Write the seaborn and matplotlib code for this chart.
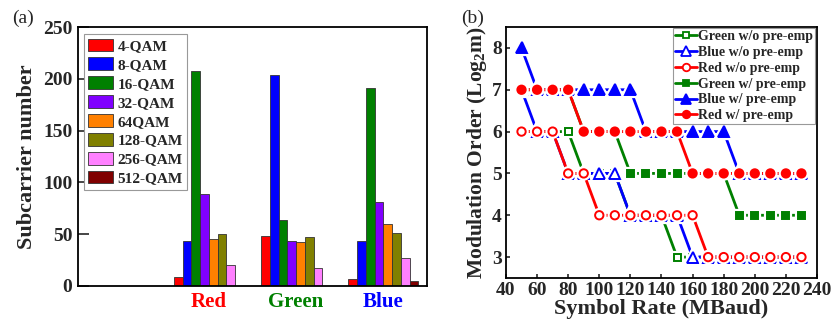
import numpy as np
import pandas as pd
import matplotlib
matplotlib.use('Agg')
import matplotlib.pyplot as plt
import matplotlib.patheffects as pe
from matplotlib.lines import Line2D
import seaborn as sns

# ---- panel (a): subcarrier allocation
channels = ['Red', 'Green', 'Blue']
formats = ['4-QAM', '8-QAM', '16-QAM', '32-QAM', '64QAM', '128-QAM', '256-QAM', '512-QAM']
red_counts = [9, 43, 208, 89, 45, 50, 20, 0]
green_counts = [48, 204, 64, 43, 42, 47, 17, 0]
blue_counts = [7, 43, 191, 81, 60, 51, 27, 5]
bar_colors = ['#ff0000', '#0000ff', '#008000', '#8000ff', '#ff8000', '#808000', '#ff80ff', '#800000']
label_colors = ['#ff0000', '#008000', '#0000ff']

# ---- panel (b): modulation order vs symbol rate
rates = [50, 60, 70, 80, 90, 100, 110, 120, 130, 140, 150, 160, 170, 180, 190, 200, 210, 220, 230]
green_wo = [6, 6, 6, 6, 5, 5, 5, 4, 4, 4, 3, 3, 3, 3, 3, 3, 3, 3, 3]
blue_wo = [7, 6, 6, 5, 5, 5, 5, 4, 4, 4, 4, 3, 3, 3, 3, 3, 3, 3, 3]
red_wo = [6, 6, 6, 5, 5, 4, 4, 4, 4, 4, 4, 4, 3, 3, 3, 3, 3, 3, 3]
green_w = [7, 7, 7, 7, 6, 6, 6, 5, 5, 5, 5, 5, 5, 5, 4, 4, 4, 4, 4]
blue_w = [8, 7, 7, 7, 7, 7, 7, 7, 6, 6, 6, 6, 6, 6, 5, 5, 5, 5, 5]
red_w = [7, 7, 7, 7, 6, 6, 6, 6, 6, 6, 6, 5, 5, 5, 5, 5, 5, 5, 5]

series_names = ['Green w/o pre-emp', 'Blue w/o pre-emp', 'Red w/o pre-emp',
                'Green w/ pre-emp', 'Blue w/ pre-emp', 'Red w/ pre-emp']
series_vals = [green_wo, blue_wo, red_wo, green_w, blue_w, red_w]
series_colors = ['#008000', '#0000ff', '#ff0000', '#008000', '#0000ff', '#ff0000']
series_markers = ['s', '^', 'o', 's', '^', 'o']
series_filled = [False, False, False, True, True, True]
marker_sizes = {'s': 5.0, '^': 8, 'o': 6.0}

sns.set_style('ticks')
plt.rcParams['font.family'] = ['Liberation Serif', 'DejaVu Serif']
plt.rcParams['font.weight'] = 'bold'
plt.rcParams['axes.labelweight'] = 'bold'
plt.rcParams['mathtext.fontset'] = 'custom'
plt.rcParams['mathtext.rm'] = 'Liberation Serif:bold'
plt.rcParams['mathtext.it'] = 'Liberation Serif:bold'
plt.rcParams['mathtext.bf'] = 'Liberation Serif:bold'

fig = plt.figure(figsize=(8.33, 3.23), dpi=100)
ax1 = fig.add_axes([0.0936, 0.1146, 0.419, 0.8018])
ax2 = fig.add_axes([0.6074, 0.1393, 0.3734, 0.7771])

# bar chart
rows = []
for ch, vals in zip(channels, [red_counts, green_counts, blue_counts]):
    for f, v in zip(formats, vals):
        rows.append({'channel': ch, 'format': f, 'count': v})
df_a = pd.DataFrame(rows)

sns.barplot(data=df_a, x='channel', y='count', hue='format',
            order=[' '] + channels, hue_order=formats, palette=bar_colors,
            saturation=1, width=0.8, edgecolor='#333333', linewidth=0.6, ax=ax1)
ax1.set_ylim(0, 250)
ax1.set_yticks([0, 50, 100, 150, 200, 250])
ax1.set_xlabel('')
ax1.set_ylabel('Subcarrier number', fontsize=16, fontweight='bold')
ax1.tick_params(axis='y', direction='in', length=8, width=1.2, labelsize=14, pad=4)
ax1.tick_params(axis='x', length=0, labelsize=15, pad=4)
for lab in ax1.get_xticklabels():
    lab.set_fontweight('bold')
    if lab.get_text() in channels:
        lab.set_color(label_colors[channels.index(lab.get_text())])
for lab in ax1.get_yticklabels():
    lab.set_fontweight('bold')
for s in ax1.spines.values():
    s.set_visible(True)
    s.set_linewidth(1.3)
    s.set_color('black')
leg = ax1.legend(loc='upper left', bbox_to_anchor=(0.008, 0.985), fontsize=11,
                 frameon=True, fancybox=False, framealpha=1, edgecolor='#999999',
                 handlelength=1.6, handleheight=0.9, labelspacing=0.28,
                 handletextpad=0.3, borderpad=0.3, borderaxespad=0.2)
leg.get_frame().set_linewidth(0.8)
for t in leg.get_texts():
    t.set_fontweight('bold')
fig.text(0.014, 0.93, '(a)', fontsize=14, fontweight='normal')

# line chart
halo = [pe.withStroke(linewidth=4.5, foreground='white')]
handles = []
for name, vals, col, mk, filled in zip(series_names, series_vals, series_colors,
                                       series_markers, series_filled):
    sns.lineplot(x=rates, y=vals, color=col, linewidth=2.0, ax=ax2)
    face = col if filled else 'white'
    ax2.plot(rates, vals, linestyle='none', marker=mk, markersize=marker_sizes[mk],
             markerfacecolor=face, markeredgecolor=col, markeredgewidth=1.4,
             path_effects=halo)
    handles.append(Line2D([], [], color=col, linewidth=2.0, marker=mk,
                          markersize=marker_sizes[mk] * 0.9, markerfacecolor=face,
                          markeredgecolor=col, markeredgewidth=1.3))
ax2.set_xlim(40, 240)
ax2.set_ylim(2.5, 8.5)
ax2.set_xticks([40, 60, 80, 100, 120, 140, 160, 180, 200, 220, 240])
ax2.set_yticks([3, 4, 5, 6, 7, 8])
ax2.set_xlabel('Symbol Rate (MBaud)', fontsize=16, fontweight='bold', labelpad=0)
ax2.set_ylabel('Modulation Order (Log$_2$m)', fontsize=15.5, fontweight='bold', labelpad=2)
ax2.tick_params(direction='in', length=3, width=1.2, labelsize=14, pad=3)
for lab in ax2.get_xticklabels() + ax2.get_yticklabels():
    lab.set_fontweight('bold')
for s in ax2.spines.values():
    s.set_visible(True)
    s.set_linewidth(1.3)
    s.set_color('black')
leg2 = ax2.legend(handles, series_names, loc='upper right', bbox_to_anchor=(0.995, 0.995),
                  fontsize=10, frameon=True, fancybox=False, framealpha=1, edgecolor='#999999',
                  handlelength=1.6, labelspacing=0.2, handletextpad=0.1,
                  borderpad=0.15, borderaxespad=0.0)
leg2.get_frame().set_linewidth(0.8)
for t in leg2.get_texts():
    t.set_fontweight('bold')
fig.text(0.553, 0.93, '(b)', fontsize=14, fontweight='normal')

fig.savefig('out.png', dpi=100)
